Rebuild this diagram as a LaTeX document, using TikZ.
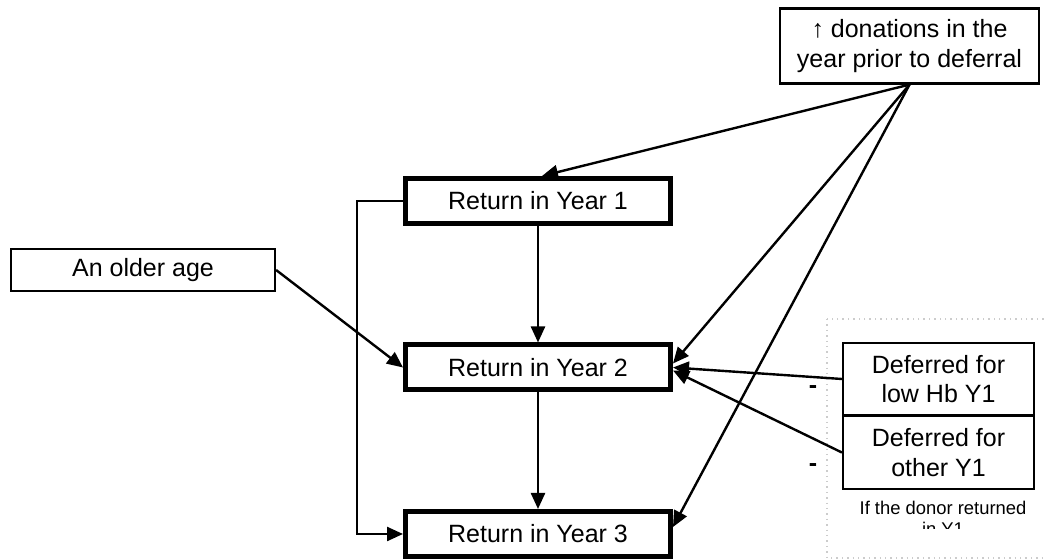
\documentclass[tikz,border=0pt]{standalone}
\usepackage{fontspec}
\setmainfont{Liberation Sans}
\usetikzlibrary{arrows.meta}

\tikzset{
  yearbox/.style={draw,line width=2.5pt,minimum width=132.5pt,minimum height=22.5pt,inner sep=0pt,font=\fontsize{12.5}{14.5}\selectfont},
  plainbox/.style={draw,line width=1.1pt,inner sep=0pt,align=center,font=\fontsize{12.5}{14.8}\selectfont},
  arr/.style={line width=1.2pt,-{Triangle[length=8pt,width=7pt]}},
}

\begin{document}
\begin{tikzpicture}[x=0.5pt,y=-0.5pt]
\useasboundingbox (0,0) rectangle (1046,560);

\coordinate (c1) at (538, 201);
\coordinate (c2) at (538, 367.5);
\coordinate (c3) at (538, 534);
\coordinate (ca) at (143, 270);
\coordinate (ct) at (909.5, 46);
\coordinate (cl) at (938.5, 379);
\coordinate (co) at (938.5, 452.5);

\newcommand{\yedge}[2]{
    \draw[arr] (#1)--(#2);
}

% dotted frame round the deferral boxes
\draw[gray!40,dotted,line width=0.7pt] (827,319) rectangle (1050,558);

\node[yearbox] (y1) at (c1) {Return in Year 1};
\node[yearbox] (y2) at (c2) {Return in Year 2};
\node[yearbox] (y3) at (c3) {Return in Year 3};

\node[plainbox,minimum width=132pt,minimum height=21pt] (age) at (ca) {An older age};
\node[plainbox,minimum width=129.5pt,minimum height=37.5pt] (top) at (ct) {↑ donations in the\\year prior to deferral};
\node[plainbox,minimum width=95.5pt,minimum height=36pt] (low) at (cl) {Deferred for\\low Hb Y1};
\node[plainbox,minimum width=95.5pt,minimum height=36.5pt] (oth) at (co) {Deferred for\\other Y1};

\node[font=\bfseries\fontsize{12.5}{14.5}\selectfont] (m1) at (813,390) {-};
\node[font=\bfseries\fontsize{12.5}{14.5}\selectfont] (m2) at (813,468) {-};

\begin{scope}
  \clip (827,319) rectangle (1046,529);
  \node[align=center,font=\fontsize{9.2}{10.3}\selectfont,anchor=north,inner sep=0pt] (note) at (943,501) {If the donor returned\\in Y1};
\end{scope}

\yedge{y1.south}{y2.north}
\yedge{y2.south}{y3.north}
\draw[arr] (y1.west) -- ++(-46,0) |- (y3.west);
\yedge{age.east}{y2.west}

\yedge{top.south}{[xshift=2pt]y1.north}
\yedge{top.south}{[yshift=2pt]y2.east}
\yedge{top.south}{[yshift=3.5pt]y3.east}

\yedge{low.west}{y2.east}
\yedge{oth.west}{[yshift=-1.5pt]y2.east}
\end{tikzpicture}
\end{document}
